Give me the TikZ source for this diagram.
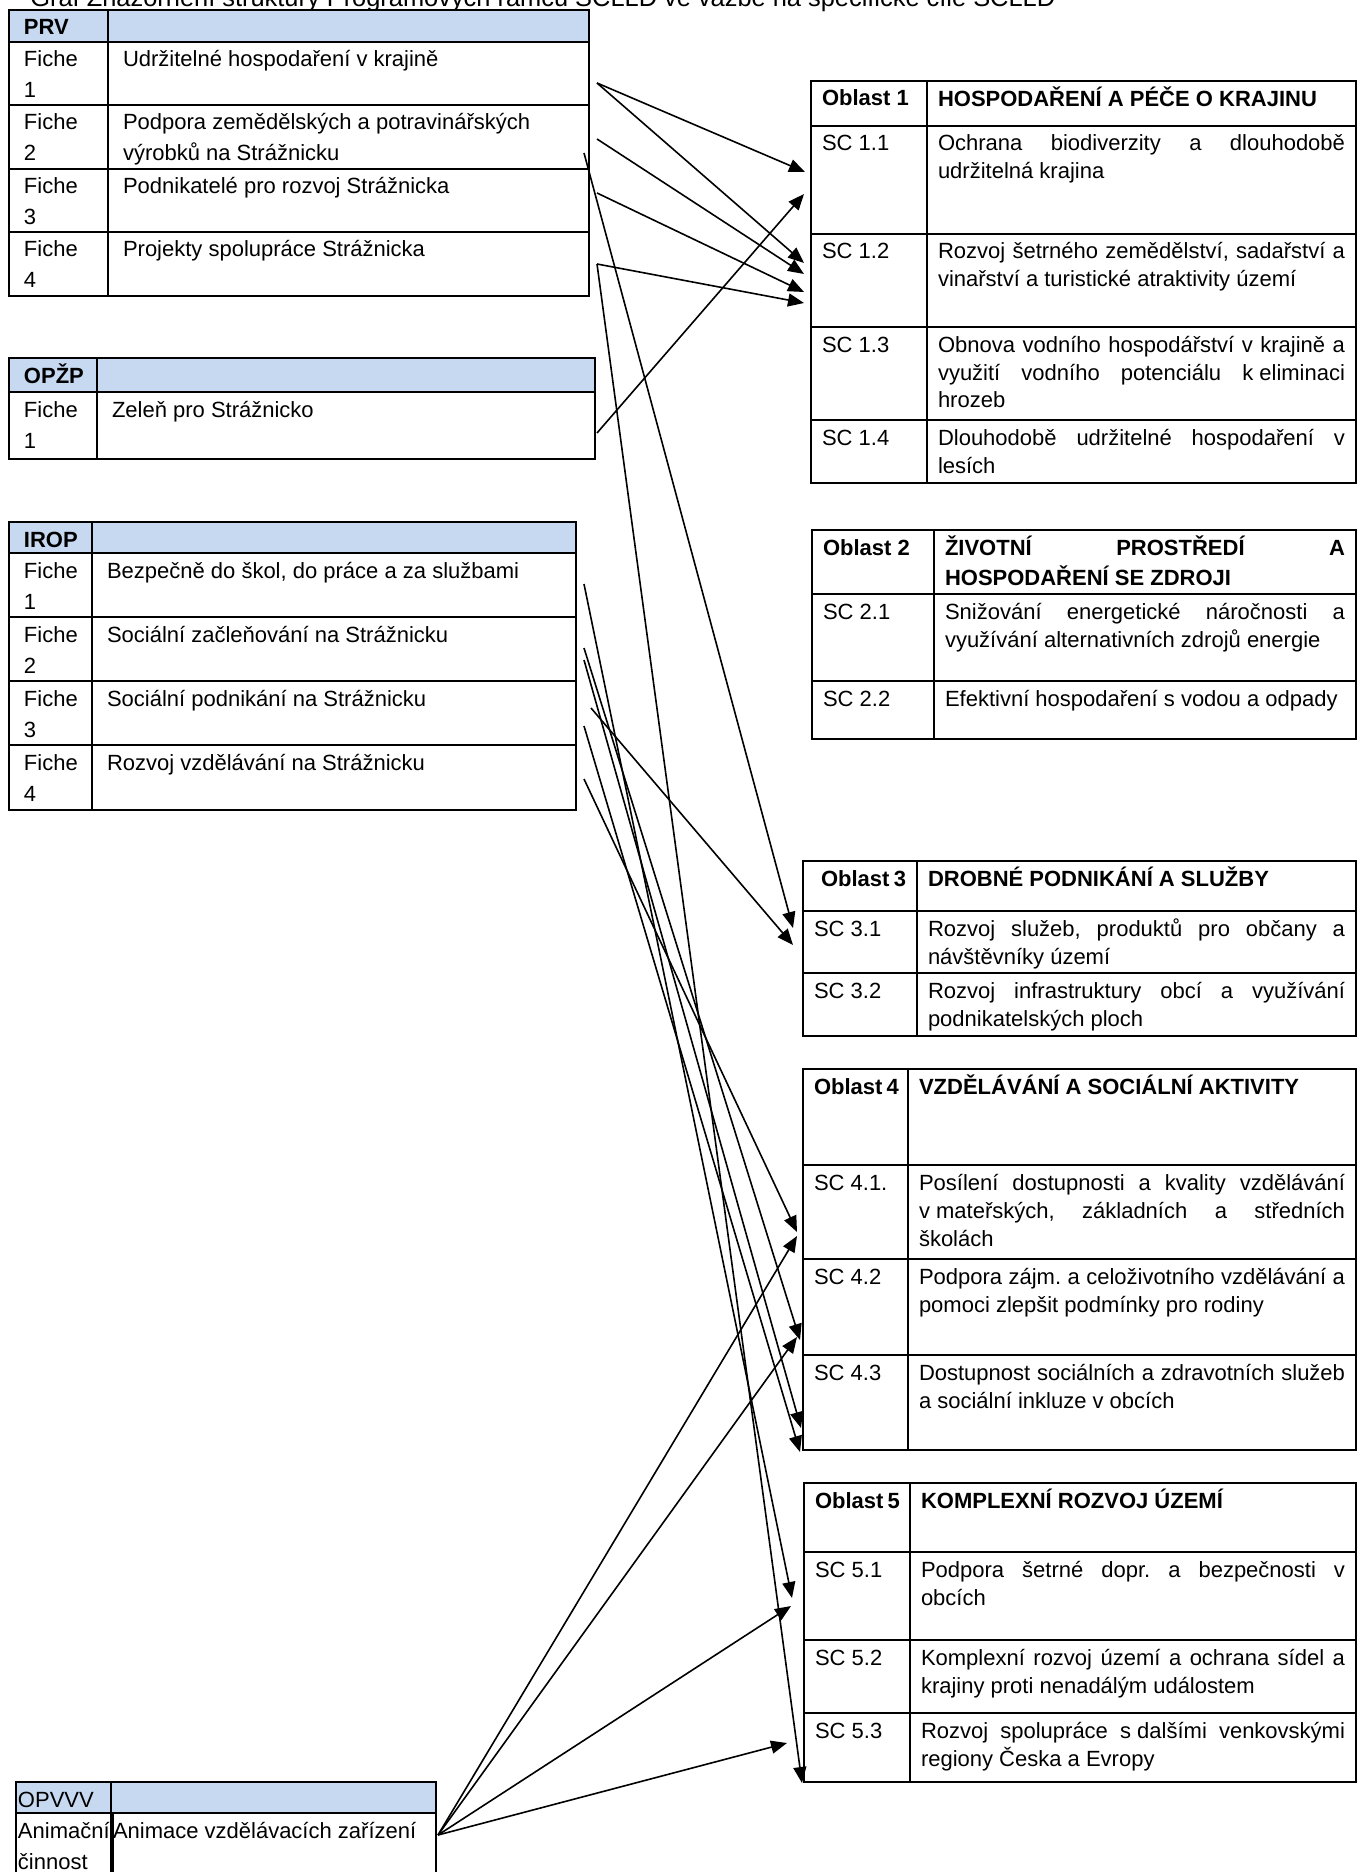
\documentclass[tikz,border=0pt]{standalone}
\usepackage{fontspec}
\setmainfont{Liberation Sans}
\usetikzlibrary{arrows.meta,calc}
\definecolor{headblue}{HTML}{C6D9F1}
\newlength{\pxl}
\setlength{\pxl}{0.5pt}
\newcommand{\fleft}{\fontsize{11}{15.5}\selectfont}
\newcommand{\fobl}{\fontsize{11}{14}\selectfont}
\frenchspacing
% table cells: width, height (in px of the layout), text at the top
\newcommand{\lcell}[3]{\parbox[c][#2\pxl][t]{#1\pxl}{\vspace*{3.3\pxl}\raggedright\strut#3}}
\newcommand{\ocell}[3]{\parbox[c][#2\pxl][t]{#1\pxl}{\vspace*{5.4\pxl}\strut#3}}

\begin{document}
\begin{tikzpicture}[x=0.5pt,y=-0.5pt,
  tbl/.style={draw,line width=1.3pt,anchor=north west,inner ysep=0pt,outer sep=0pt},
  lt/.style={tbl,inner xsep=7.5pt,font=\fleft},
  ob/.style={tbl,inner xsep=5.5pt,font=\fobl},
  hd/.style={fill=headblue},
  arr/.style={-{Triangle[length=8pt,width=6.5pt]},line width=0.8pt}]
\useasboundingbox (0,0) rectangle (1359,1872);
\node[anchor=base west,inner sep=0pt,font=\fontsize{12.7}{15}\selectfont] (title) at (30,7) {Graf Znázornění struktury Programových rámců SCLLD  ve vazbě na specifické cíle SCLLD};
% PRV
\node[lt,hd] (prvh) at (9,10) {\lcell{69}{32}{\textbf{PRV}}};
\node[lt,hd] (prvhd) at (108,10) {\lcell{451}{32}{}};
\node[lt] (prv1) at (9,42) {\lcell{69}{63}{Fiche\\1}};
\node[lt] (prv1d) at (108,42) {\lcell{451}{63}{Udržitelné hospodaření v krajině}};
\node[lt] (prv2) at (9,105) {\lcell{69}{64}{Fiche\\2}};
\node[lt] (prv2d) at (108,105) {\lcell{451}{64}{Podpora zemědělských a potravinářských\\výrobků na Strážnicku}};
\node[lt] (prv3) at (9,169) {\lcell{69}{63}{Fiche\\3}};
\node[lt] (prv3d) at (108,169) {\lcell{451}{63}{Podnikatelé pro rozvoj Strážnicka}};
\node[lt] (prv4) at (9,232) {\lcell{69}{64}{Fiche\\4}};
\node[lt] (prv4d) at (108,232) {\lcell{451}{64}{Projekty spolupráce Strážnicka}};
% OPZP
\node[lt,hd] (opzph) at (9,358) {\lcell{58}{34}{\textbf{OPŽP}}};
\node[lt,hd] (opzphd) at (97,358) {\lcell{468}{34}{}};
\node[lt] (opzp1) at (9,392) {\lcell{58}{67}{Fiche\\1}};
\node[lt] (opzp1d) at (97,392) {\lcell{468}{67}{Zeleň pro Strážnicko}};
% IROP
\node[lt,hd] (iroph) at (9,522) {\lcell{53}{31}{\textbf{IROP}}};
\node[lt,hd] (irophd) at (92,522) {\lcell{454}{31}{}};
\node[lt] (irop1) at (9,553) {\lcell{53}{64}{Fiche\\1}};
\node[lt] (irop1d) at (92,553) {\lcell{454}{64}{Bezpečně do škol, do práce a za službami}};
\node[lt] (irop2) at (9,617) {\lcell{53}{64}{Fiche\\2}};
\node[lt] (irop2d) at (92,617) {\lcell{454}{64}{Sociální začleňování na Strážnicku}};
\node[lt] (irop3) at (9,681) {\lcell{53}{64}{Fiche\\3}};
\node[lt] (irop3d) at (92,681) {\lcell{454}{64}{Sociální podnikání na Strážnicku}};
\node[lt] (irop4) at (9,745) {\lcell{53}{65}{Fiche\\4}};
\node[lt] (irop4d) at (92,745) {\lcell{454}{65}{Rozvoj vzdělávání na Strážnicku}};
% OPVVV
\node[lt,hd,inner xsep=1pt] (opvvvh) at (16,1782) {\lcell{93}{31}{OPVVV}};
\node[lt,hd,inner xsep=1pt] (opvvvhd) at (111,1782) {\lcell{321}{31}{}};
\node[lt,inner xsep=1pt] (opvvv1) at (16,1813) {\lcell{93}{67}{Animační\\činnost}};
\node[lt,inner xsep=1pt] (opvvv1d) at (111,1813) {\lcell{321}{67}{Animace vzdělávacích zařízení}};
% Oblast 1
\node[ob] (ob1) at (811,81) {\ocell{94}{45}{\textbf{Oblast~1}}};
\node[ob] (ob1d) at (927,81) {\ocell{407}{45}{\textbf{HOSPODAŘENÍ A PÉČE O KRAJINU}}};
\node[ob] (sc11) at (811,126) {\ocell{94}{108}{SC~1.1}};
\node[ob] (sc11d) at (927,126) {\ocell{407}{108}{Ochrana biodiverzity a dlouhodobě\linebreak udržitelná krajina}};
\node[ob] (sc12) at (811,234) {\ocell{94}{93}{SC~1.2}};
\node[ob] (sc12d) at (927,234) {\ocell{407}{93}{Rozvoj šetrného zemědělství, sadařství a\linebreak vinařství a turistické atraktivity území}};
\node[ob] (sc13) at (811,327) {\ocell{94}{93}{SC~1.3}};
\node[ob] (sc13d) at (927,327) {\ocell{407}{93}{Obnova vodního hospodářství v krajině a\linebreak využití vodního potenciálu \mbox{k eliminaci}\linebreak hrozeb}};
\node[ob] (sc14) at (811,420) {\ocell{94}{63}{SC~1.4}};
\node[ob] (sc14d) at (927,420) {\ocell{407}{63}{Dlouhodobě udržitelné hospodaření v\linebreak lesích}};
% Oblast 2
\node[ob] (ob2) at (812,530) {\ocell{100}{64}{\textbf{Oblast~2}}};
\node[ob] (ob2d) at (934,530) {\ocell{400}{64}{\textbf{ŽIVOTNÍ PROSTŘEDÍ A\linebreak HOSPODAŘENÍ SE ZDROJI}}};
\node[ob] (sc21) at (812,594) {\ocell{100}{87}{SC~2.1}};
\node[ob] (sc21d) at (934,594) {\ocell{400}{87}{Snižování energetické náročnosti a\linebreak využívání alternativních zdrojů energie}};
\node[ob] (sc22) at (812,681) {\ocell{100}{58}{SC~2.2}};
\node[ob] (sc22d) at (934,681) {\ocell{400}{58}{Efektivní hospodaření s vodou a odpady}};
% Oblast 3
\node[ob] (ob3) at (803,861) {\ocell{92}{50}{\hspace*{3.5pt}\textbf{Oblast~3}}};
\node[ob] (ob3d) at (917,861) {\ocell{417}{50}{\textbf{DROBNÉ PODNIKÁNÍ A SLUŽBY}}};
\node[ob] (sc31) at (803,911) {\ocell{92}{62}{SC~3.1}};
\node[ob] (sc31d) at (917,911) {\ocell{417}{62}{Rozvoj služeb, produktů pro občany a\linebreak návštěvníky území}};
\node[ob] (sc32) at (803,973) {\ocell{92}{63}{SC~3.2}};
\node[ob] (sc32d) at (917,973) {\ocell{417}{63}{Rozvoj infrastruktury obcí a využívání\linebreak podnikatelských ploch}};
% Oblast 4
\node[ob] (ob4) at (803,1069) {\ocell{83}{96}{\textbf{Oblast~4}}};
\node[ob] (ob4d) at (908,1069) {\ocell{426}{96}{\textbf{VZDĚLÁVÁNÍ A SOCIÁLNÍ AKTIVITY}}};
\node[ob] (sc41) at (803,1165) {\ocell{83}{94}{SC~4.1.}};
\node[ob] (sc41d) at (908,1165) {\ocell{426}{94}{Posílení dostupnosti a kvality vzdělávání\linebreak \mbox{v mateřských,} základních a středních\linebreak školách}};
\node[ob] (sc42) at (803,1259) {\ocell{83}{96}{SC~4.2}};
\node[ob] (sc42d) at (908,1259) {\ocell{426}{96}{Podpora zájm. a celoživotního vzdělávání a\linebreak pomoci zlepšit podmínky pro rodiny}};
\node[ob] (sc43) at (803,1355) {\ocell{83}{95}{SC~4.3}};
\node[ob] (sc43d) at (908,1355) {\ocell{426}{95}{Dostupnost sociálních a zdravotních služeb\linebreak a sociální inkluze v obcích}};
% Oblast 5
\node[ob] (ob5) at (804,1483) {\ocell{84}{69}{\textbf{Oblast~5}}};
\node[ob] (ob5d) at (910,1483) {\ocell{424}{69}{\textbf{KOMPLEXNÍ ROZVOJ ÚZEMÍ}}};
\node[ob] (sc51) at (804,1552) {\ocell{84}{88}{SC~5.1}};
\node[ob] (sc51d) at (910,1552) {\ocell{424}{88}{Podpora šetrné dopr. a bezpečnosti v\linebreak obcích}};
\node[ob] (sc52) at (804,1640) {\ocell{84}{73}{SC~5.2}};
\node[ob] (sc52d) at (910,1640) {\ocell{424}{73}{Komplexní rozvoj území a ochrana sídel a\linebreak krajiny proti nenadálým událostem}};
\node[ob] (sc53) at (804,1713) {\ocell{84}{69}{SC~5.3}};
\node[ob] (sc53d) at (910,1713) {\ocell{424}{69}{Rozvoj spolupráce \mbox{s dalšími} venkovskými\linebreak regiony Česka a Evropy}};
% PRV links
\draw[arr] ($(prv1d.east)+(8,9.5)$) -- ($(sc11.west)+(-6,-8)$);
\draw[arr] ($(prv1d.east)+(8,9.5)$) -- ($(sc12.west)+(-7,-17.5)$);
\draw[arr] ($(prv2d.east)+(8,2)$) -- ($(sc12.west)+(-7,-6.5)$);
\draw[arr] ($(prv2d.east)+(-5,16)$) -- ($(sc31.west)+(-10,-14)$);
\draw[arr] ($(prv3d.east)+(8,-7.5)$) -- ($(sc12.west)+(-7,11.5)$);
\draw[arr] ($(prv4d.east)+(8,0)$) -- ($(sc12.west)+(-7,22.5)$);
\draw[arr] ($(prv4d.east)+(8,0)$) -- ($(sc53.west)+(-2,35.5)$);
% OPZP link
\draw[arr] ($(opzp1d.east)+(2,7.5)$) -- ($(sc11.west)+(-7,14)$);
% IROP links
\draw[arr] ($(irop1d.east)+(8,-1)$) -- ($(sc51.west)+(-12,2)$);
\draw[arr] ($(irop2d.east)+(8,-1)$) -- ($(sc42.west)+(-3,33)$);
\draw[arr] ($(irop2d.east)+(8,11)$) -- ($(sc43.west)+(-2,25.5)$);
\draw[arr] ($(irop3d.east)+(15,-5)$) -- ($(sc31.west)+(-10,3)$);
\draw[arr] ($(irop3d.east)+(8,13)$) -- ($(sc43.west)+(-3,49.5)$);
\draw[arr] ($(irop4d.east)+(8,1.5)$) -- ($(sc41.west)+(-6,20)$);
% OPVVV links
\draw[arr] ($(opvvv1d.east)+(2,-11.5)$) -- ($(sc41.west)+(-6,24)$);
\draw[arr] ($(opvvv1d.east)+(2,-11.5)$) -- ($(sc42.west)+(-6,30)$);
\draw[arr] ($(opvvv1d.east)+(2,-11.5)$) -- ($(sc51.west)+(-13,10)$);
\draw[arr] ($(opvvv1d.east)+(2,-11.5)$) -- ($(sc53.west)+(-17,-4.5)$);
\end{tikzpicture}
\end{document}
